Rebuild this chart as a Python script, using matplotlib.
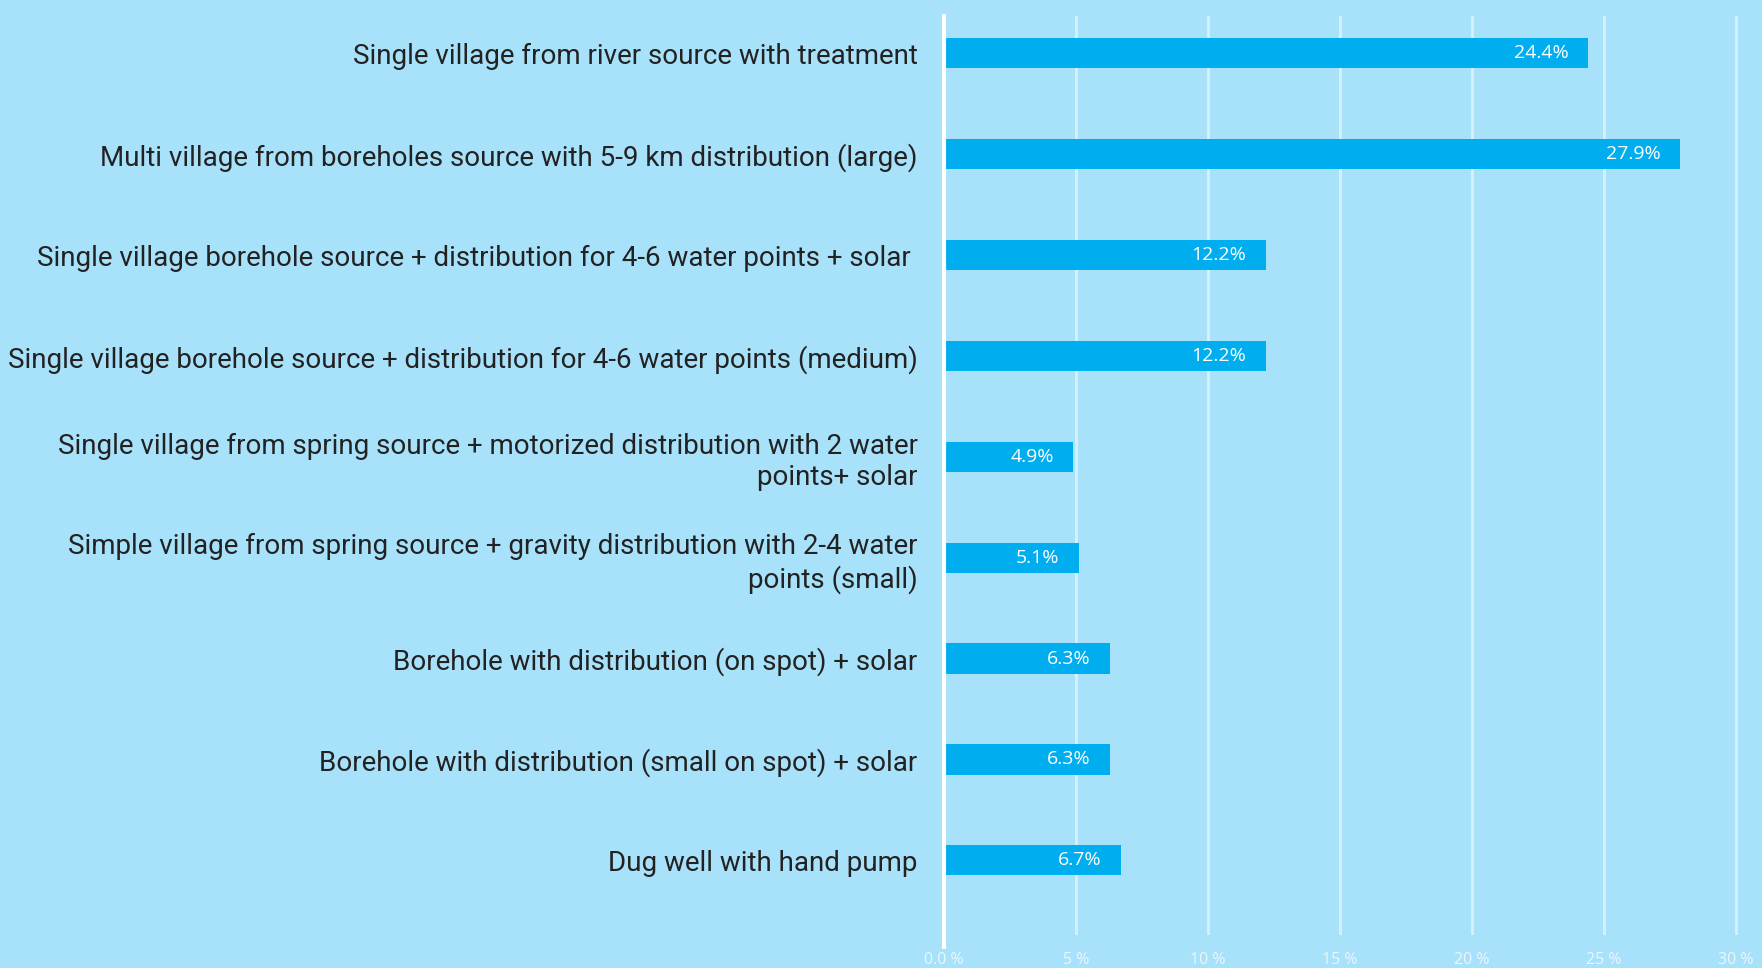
import numpy as np
import matplotlib.pyplot as plt

categories = [
    "Single village from river source with treatment",
    "Multi village from boreholes source with 5-9 km distribution (large)",
    "Single village borehole source + distribution for 4-6 water points + solar ",
    "Single village borehole source + distribution for 4-6 water points (medium)",
    "Single village from spring source + motorized distribution with 2 water\npoints+ solar",
    "Simple village from spring source + gravity distribution with 2-4 water\npoints (small)",
    "Borehole with distribution (on spot) + solar",
    "Borehole with distribution (small on spot) + solar",
    "Dug well with hand pump",
]
shares = [24.4, 27.9, 12.2, 12.2, 4.9, 5.1, 6.3, 6.3, 6.7]
tick_values = [0, 5, 10, 15, 20, 25, 30]
tick_labels = ["0.0 %", "5 %", "10 %", "15 %", "20 %", "25 %", "30 %"]

BG = "#A8E1FA"
BAR = "#00AEEF"
TEXT = "#222222"

fig = plt.figure(figsize=(17.62, 9.68), dpi=100, facecolor=BG)
ax = fig.add_axes([944 / 1762, 33 / 968, (1749 - 944) / 1762, 919 / 968])
ax.set_facecolor(BG)

y = np.arange(len(categories))
bars = ax.barh(y, shares, height=0.3, color=BAR, zorder=3)

# value labels inside the bar ends
for rect, v in zip(bars, shares):
    ax.annotate(f"{v}%", xy=(rect.get_width(), rect.get_y() + rect.get_height() / 2),
                xytext=(-14, 0), textcoords="offset points",
                ha="right", va="center", color="white", fontsize=14,
                family="Open Sans", zorder=4)

ax.set_xlim(0, 30.5)
ax.set_ylim(len(categories) - 0.26, -0.37)

ax.set_xticks(tick_values)
ax.set_xticklabels(tick_labels, color="#EAF7FE", fontsize=11.5, family="Open Sans")
ax.tick_params(axis="x", length=0, pad=12)
ax.set_yticks(y)
ax.set_yticklabels(categories, color=TEXT, fontsize=20, family="Roboto",
                   linespacing=1.22)
ax.tick_params(axis="y", length=0, pad=19)

for s in ax.spines.values():
    s.set_visible(False)

# light vertical gridlines plus a solid zero line
for t in tick_values[1:]:
    ax.axvline(t, color="white", alpha=0.55, lw=2, zorder=2)
ax.axvline(0, ymin=-0.013, ymax=1.0, color="white", lw=3, zorder=4, clip_on=False)

fig.savefig("out.png", dpi=100, facecolor=BG)
